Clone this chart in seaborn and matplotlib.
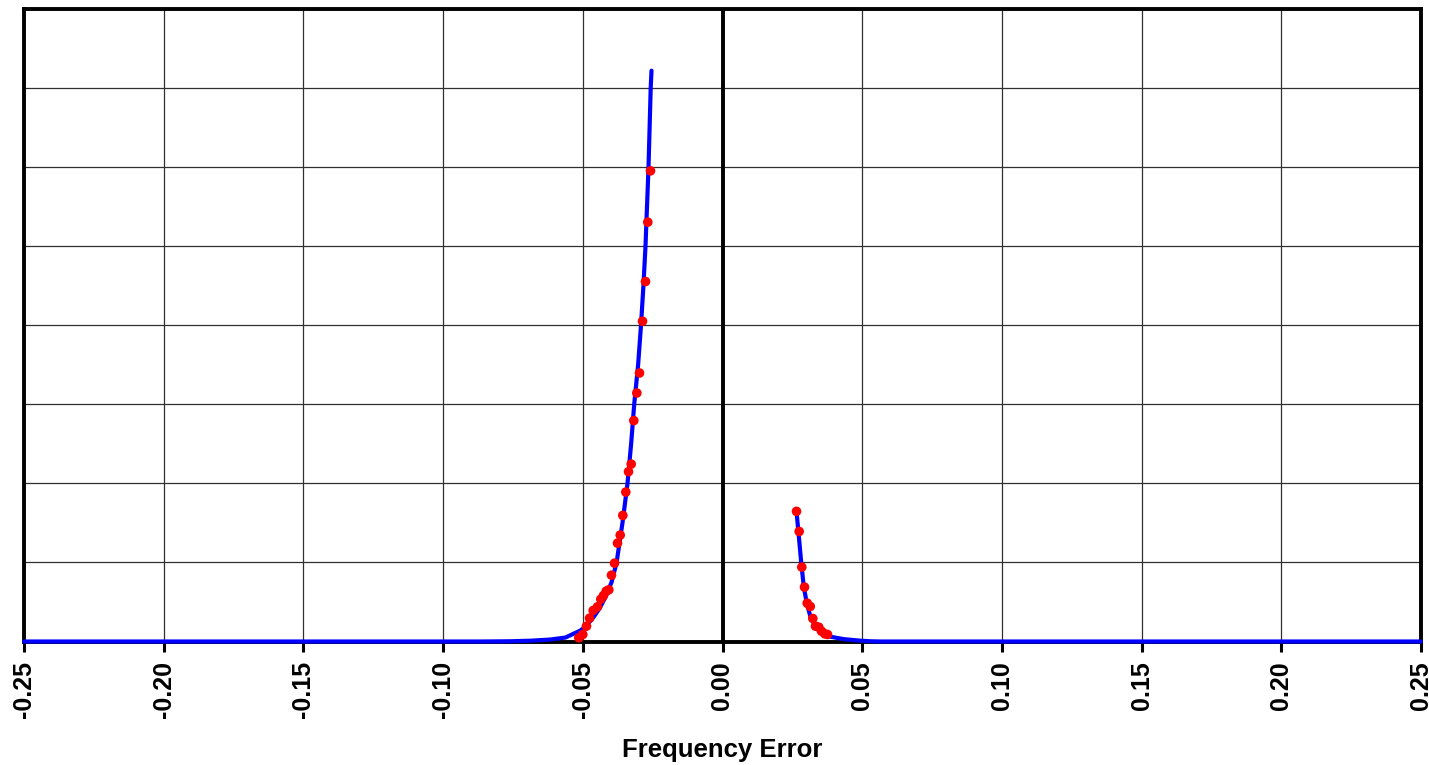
import matplotlib
matplotlib.use("Agg")
import matplotlib.pyplot as plt
import seaborn as sns

# ---- data ----
tick_values = [-0.25, -0.20, -0.15, -0.10, -0.05, 0.00, 0.05, 0.10, 0.15, 0.20, 0.25]
tick_labels = ["-0.25", "-0.20", "-0.15", "-0.10", "-0.05", "0.00",
               "0.05", "0.10", "0.15", "0.20", "0.25"]

# fitted curve, negative side
left_line_x = [-0.25, -0.10, -0.0866, -0.0759, -0.0687, -0.0616, -0.0562, -0.0532,
               -0.0508, -0.0487, -0.0461, -0.0440, -0.0419, -0.0397, -0.0379,
               -0.0358, -0.0340, -0.0327, -0.0316, -0.0302, -0.02917, -0.0283,
               -0.02756, -0.02648, -0.0257, -0.02541]
left_line_y = [0.0, 0.0, 0.0, 0.003, 0.01, 0.025, 0.05, 0.10,
               0.14, 0.20, 0.31, 0.42, 0.56, 0.75, 1.0,
               1.5, 2.0, 2.5, 3.0, 3.5, 4.0, 4.5,
               5.0, 6.0, 7.0, 7.22]

# fitted curve, positive side
right_line_x = [0.02649, 0.0274, 0.02817, 0.0291, 0.0302, 0.0315, 0.0335, 0.0358,
                0.0387, 0.0434, 0.0494, 0.053, 0.0566, 0.25]
right_line_y = [1.646, 1.3, 1.0, 0.69, 0.48, 0.31, 0.18, 0.10,
                0.06, 0.03, 0.01, 0.003, 0.0, 0.0]

# measured points, negative side
left_pts_x = [-0.02577, -0.02674, -0.02756, -0.02863, -0.02971, -0.03067, -0.03175,
              -0.03268, -0.03364, -0.03461, -0.03568, -0.03661, -0.03758, -0.03865,
              -0.03973, -0.04069, -0.04162, -0.04259, -0.04356, -0.04474, -0.04628,
              -0.04760, -0.04868, -0.05000, -0.05143]
left_pts_y = [5.953, 5.304, 4.553, 4.051, 3.396, 3.143, 2.794,
              2.244, 2.148, 1.890, 1.595, 1.346, 1.244, 0.991,
              0.839, 0.654, 0.637, 0.582, 0.535, 0.439, 0.392,
              0.295, 0.194, 0.089, 0.047]

# measured points, positive side
right_pts_x = [0.02649, 0.02744, 0.02838, 0.02935, 0.03032, 0.0314, 0.03232,
               0.03329, 0.03447, 0.03544, 0.03662, 0.03758]
right_pts_y = [1.646, 1.392, 0.941, 0.688, 0.485, 0.443, 0.291,
               0.194, 0.181, 0.130, 0.097, 0.089]

x_label = "Frequency Error"

# ---- drawing ----
sns.set_theme(style="white")
plt.rcParams["font.family"] = ["Liberation Sans", "DejaVu Sans"]
plt.rcParams["text.color"] = "black"
plt.rcParams["axes.labelcolor"] = "black"
plt.rcParams["xtick.color"] = "black"

W, H = 1429, 765
fig = plt.figure(figsize=(W / 100, H / 100), dpi=100)
ax = fig.add_axes([24 / W, 1 - 641.5 / H, (1421 - 24) / W, (641.5 - 9) / H])

line_kw = dict(color="#0000FF", linewidth=3, sort=False, zorder=4,
               clip_on=False, estimator=None)
sns.lineplot(x=left_line_x, y=left_line_y, ax=ax, **line_kw)
sns.lineplot(x=right_line_x, y=right_line_y, ax=ax, **line_kw)

pts_kw = dict(color="#FF0000", s=48, edgecolor="none", linewidth=0, zorder=5,
              clip_on=False)
sns.scatterplot(x=left_pts_x, y=left_pts_y, ax=ax, **pts_kw)
sns.scatterplot(x=right_pts_x, y=right_pts_y, ax=ax, **pts_kw)

ax.set_xlim(-0.25, 0.25)
ax.set_ylim(0, 8)
ax.set_yticks(range(0, 9))
ax.set_yticklabels([])
ax.tick_params(axis="y", length=0)

ax.set_xticks(tick_values)
ax.set_xticklabels(tick_labels, rotation=90, fontsize=18, fontweight="bold",
                   color="black")
ax.tick_params(axis="x", direction="out", length=7, width=2.2, color="black",
               labelcolor="black", pad=7, bottom=True)

ax.grid(True, color="#303030", linewidth=0.9)
ax.set_axisbelow(True)
ax.axvline(0, color="black", linewidth=2.8, zorder=3)

for sp in ax.spines.values():
    sp.set_color("black")
    sp.set_linewidth(2.8)
    sp.set_visible(True)

ax.set_xlabel(x_label, fontsize=18.5, fontweight="bold", labelpad=14,
              color="black")

fig.savefig("out.png", dpi=100, facecolor="white")
